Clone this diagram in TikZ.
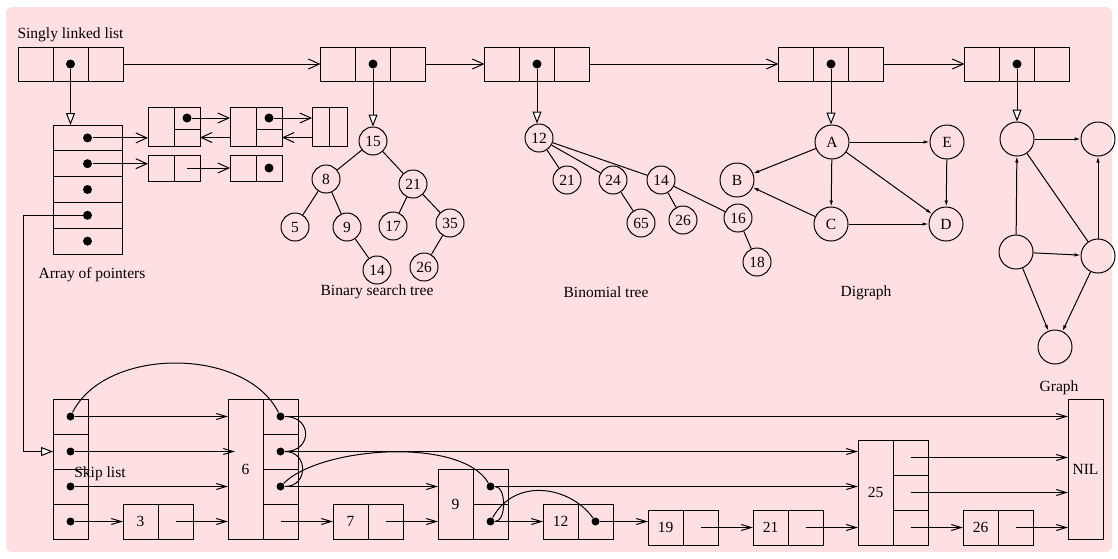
\documentclass[tikz,border=0pt]{standalone}
\usepackage{fontspec}
\setmainfont{Liberation Serif}
\usetikzlibrary{arrows.meta,positioning}

\definecolor{bgpink}{RGB}{255,224,226}

\tikzset{
  box/.style={draw, inner sep=0pt, outer sep=0pt, minimum width=35pt, minimum height=35pt},
  ptr/.style={circle, fill=black, inner sep=0pt, minimum size=9pt},
  sptr/.style={circle, fill=black, inner sep=0pt, minimum size=8pt},
  vtx/.style={circle, draw, inner sep=0pt, minimum size=28pt},
  bigvtx/.style={circle, draw, inner sep=0pt, minimum size=34pt},
  barb/.style={-{Straight Barb[length=11pt,width=10pt]}},
  sbarb/.style={-{Straight Barb[length=10pt,width=6pt]}},
  tri/.style={-{Triangle[length=12pt,width=9pt,fill=white]}},
  dig/.style={-{Latex[length=6pt,width=3.5pt]}},
}

\begin{document}
\begin{tikzpicture}[x=1pt, y=-1pt, line width=1pt, font=\fontsize{15.5pt}{18pt}\selectfont]
  \useasboundingbox (0,0) rectangle (1118,558);
  % pink panel behind everything
  \fill[bgpink, rounded corners=6pt] (6,7) rectangle (1112,552);

  % Singly linked list along the top
  \foreach \n/\x in {1/70.5, 2/373, 3/537, 4/831, 5/1017} {
    \node[box, minimum height=34pt] (n\n-b) at (\x,64) {};
    \node[box, minimum height=34pt, left=0pt of n\n-b] (n\n-a) {};
    \node[box, minimum height=34pt, right=0pt of n\n-b] (n\n-c) {};
    \node[ptr] (n\n-p) at (n\n-b) {};
  }
  \foreach \i/\j in {1/2, 2/3, 3/4, 4/5}
    \draw[barb] (n\i-c.east) -- (n\j-a.west);
  \node (lsll) at (70.5,35) {Singly linked list};

  % Array of pointers
  \node[box, minimum width=69pt, minimum height=25.8pt] (arr1) at (87.5,137.9) {};
  \foreach \i [count=\j from 2] in {1,...,4}
    \node[box, minimum width=69pt, minimum height=25.8pt, below=0pt of arr\i] (arr\j) {};
  \foreach \i in {1,...,5}
    \node[ptr] (arr\i-p) at (arr\i) {};
  \node (larr) at (92,275) {Array of pointers};
  \draw[tri] (n1-p) -- (n1-p |- arr1.north);

  % doubly linked list off the first slot
  \foreach \d/\x in {1/161, 2/243} {
    \node[box, minimum width=26pt, minimum height=39pt] (d\d a) at (\x,126.5) {};
    \node[box, minimum width=26pt, minimum height=22pt, anchor=north west] (d\d hi) at (d\d a.north east) {};
    \node[box, minimum width=26pt, minimum height=17pt, anchor=north west] (d\d lo) at (d\d hi.south west) {};
    \node[ptr] (d\d p) at (d\d hi) {};
  }
  \node[box, minimum width=17.5pt, minimum height=39pt] (d3a) at (320.75,126.5) {};
  \node[box, minimum width=17.5pt, minimum height=39pt, right=0pt of d3a] (d3b) {};
  \draw[barb] (arr1-p) -- (arr1-p -| d1a.west);
  \draw[barb] (d1p) -- (d1p -| d2a.west);
  \draw[barb] (d2p) -- (d2p -| d3a.west);
  \draw[barb] (d3a.west |- d2lo) -- (d2lo.east);
  \draw[barb] (d2a.west |- d1lo) -- (d1lo.east);

  % short list off the second slot
  \foreach \e/\x in {1/161, 2/243} {
    \node[box, minimum width=26pt, minimum height=26pt] (e\e a) at (\x,168) {};
    \node[box, minimum width=26pt, minimum height=26pt, right=0pt of e\e a] (e\e b) {};
  }
  \node[ptr] (e2p) at (e2b) {};
  \draw[barb] (arr2-p) -- (arr2-p -| e1a.west);
  \draw[barb] (e1b.center) -- (e1b.center -| e2a.west);

  % Binary search tree
  \foreach \v/\x/\y in {15/373/141, 8/326/179, 21/413/184, 5/295/227, 9/347/227,
                        17/393/226, 35/450/223, 14/377/270, 26/424/267}
    \node[vtx] (t\v) at (\x,\y) {\v};
  \foreach \a/\b in {15/8, 15/21, 8/5, 8/9, 9/14, 21/17, 21/35, 35/26}
    \draw (t\a) -- (t\b);
  \draw[tri] (n2-p) -- (t15);
  \node (lbst) at (377,292) {Binary search tree};

  % Binomial tree
  \foreach \v/\x/\y in {12/539/138, 21/567/180, 24/613/180, 14/661/180,
                        65/641/223, 26/683/220, 16/738/218, 18/757/262}
    \node[vtx] (m\v) at (\x,\y) {\v};
  \foreach \a/\b in {12/21, 12/24, 12/14, 24/65, 14/26, 14/16, 16/18}
    \draw (m\a) -- (m\b);
  \draw[tri] (n3-p) -- (n3-p |- m12.north);
  \node (lbin) at (606,292) {Binomial tree};

  % Digraph
  \foreach \v/\x/\y in {A/832/142, B/737/180, C/831/224, D/946/224, E/947/142}
    \node[bigvtx] (g\v) at (\x,\y) {\v};
  \foreach \a/\b in {A/B, A/E, A/C, A/D, E/D, C/B, C/D}
    \draw[dig] (g\a) -- (g\b);
  \draw[tri] (n4-p) -- (n4-p |- gA.north);
  \node (ldig) at (866,293) {Digraph};

  % Graph
  \foreach \v/\x/\y in {1/1017/139, 2/1098/139, 3/1016/252, 4/1098/256, 5/1055/347}
    \node[bigvtx] (u\v) at (\x,\y) {};
  \foreach \a/\b in {1/2, 3/1, 4/2, 3/4, 3/5, 4/5}
    \draw[dig] (u\a) -- (u\b);
  \draw (u1) -- (u4);
  \draw[tri] (n5-p) -- (u1);
  \node (lgr) at (1059,388) {Graph};

  % Skip list: header column
  \node[box] (h1) at (70.5,416.5) {};
  \foreach \i [count=\j from 2] in {1,...,3}
    \node[box, below=0pt of h\i] (h\j) {};
  \foreach \i in {1,...,4}
    \node[sptr] (h\i-p) at (h\i) {};
  \draw[tri] (arr4-p) -- ++(-64.5,0) |- (h2.west);
  \node (lskip) at (100,474) {Skip list};

  % level-one nodes
  \foreach \k/\x/\y in {3/140.5/521.5, 7/350.5/521.5, 12/560.5/521.5,
                        19/665.5/527.5, 21/770.5/527.5, 26/980.5/527.5} {
    \node[box] (k\k) at (\x,\y) {\k};
    \node[box, right=0pt of k\k] (k\k-p) {};
  }
  \node[sptr] (k12-d) at (k12-p) {};

  % taller nodes
  \node[box, minimum height=140pt] (k6) at (245.5,469) {6};
  \node[box, anchor=north west] (k6-p1) at (k6.north east) {};
  \foreach \i [count=\j from 2] in {1,...,3}
    \node[box, below=0pt of k6-p\i] (k6-p\j) {};
  \foreach \i in {1,...,3}
    \node[sptr] (k6-d\i) at (k6-p\i) {};

  \node[box, minimum height=70pt] (k9) at (455.5,504) {9};
  \node[box, anchor=north west] (k9-p1) at (k9.north east) {};
  \node[box, below=0pt of k9-p1] (k9-p2) {};
  \node[sptr] (k9-d1) at (k9-p1) {};
  \node[sptr] (k9-d2) at (k9-p2) {};

  \node[box, minimum height=105pt] (k25) at (875.5,492.5) {25};
  \node[box, anchor=north west] (k25-p1) at (k25.north east) {};
  \foreach \i [count=\j from 2] in {1,2}
    \node[box, below=0pt of k25-p\i] (k25-p\j) {};

  \node[box, minimum height=140pt] (nil) at (1085.5,469) {NIL};
  \coordinate (k6-in) at ([xshift=7pt]k6.west);

  % level 1 links
  \draw[sbarb] (h1-p) -- (h1-p -| k6.west);
  \draw[sbarb] (k6-d1) -- (k6-d1 -| nil.west);
  % level 2 links
  \draw[sbarb] (h2-p) -- (h2-p -| k6-in);
  \draw[sbarb] (k6-d2) -- (k6-d2 -| k25.west);
  % level 3 links
  \draw[sbarb] (h3-p) -- (h3-p -| k6.west);
  \draw[sbarb] (k6-d3) -- (k6-d3 -| k9.west);
  \draw[sbarb] (k9-d1) -- (k9-d1 -| k25.west);
  % level 4 links
  \draw[sbarb] (h4-p) -- (k3.west);
  \draw[sbarb] (k3-p.center) -- (k3-p.center -| k6.west);
  \draw[sbarb] (k6-p4.center) -- (k7.west);
  \draw[sbarb] (k7-p.center) -- (k7-p.center -| k9.west);
  \draw[sbarb] (k9-d2) -- (k12.west);
  \draw[sbarb] (k12-d) -- (k12-d -| k19.west);
  \draw[sbarb] (k19-p.center) -- (k21.west);
  \draw[sbarb] (k21-p.center) -- (k21-p.center -| k25.west);
  \draw[sbarb] (k25-p3.center) -- (k26.west);
  \draw[sbarb] (k26-p.center) -- (k26-p.center -| nil.west);
  \draw[sbarb] (k25-p1.center) -- (k25-p1.center -| nil.west);
  \draw[sbarb] (k25-p2.center) -- (k25-p2.center -| nil.west);

  % curved pointers
  \draw (h1-p) .. controls +(35,-70) and +(-35,-70) .. (k6-d1);
  \draw (k6-d1) .. controls +(32,0) and +(32,0) .. (k6-d2);
  \draw (k6-d2) .. controls +(28,0) and +(28,0) .. (k6-d3);
  \draw (k6-d3) .. controls +(40,-40) and +(-30,-50) .. (k9-d1);
  \draw (k9-d1) .. controls +(16,0) and +(16,0) .. (k9-d2);
  \draw (k9-d2) .. controls +(25,-45) and +(-25,-35) .. (k12-d);
\end{tikzpicture}
\end{document}
